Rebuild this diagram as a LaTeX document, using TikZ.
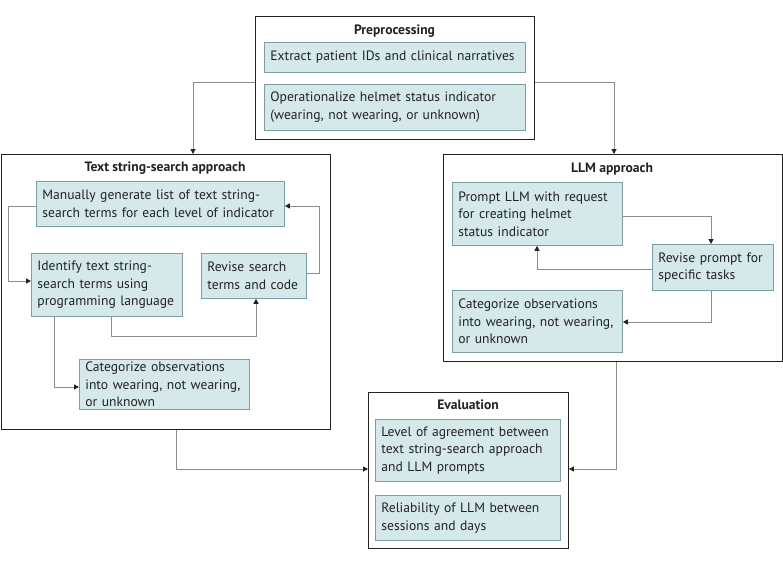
\documentclass[tikz,border=0pt]{standalone}
\definecolor{FlowFill}{HTML}{D5E9EB}
\definecolor{FlowEdge}{HTML}{7E9DA1}
\definecolor{FlowInk}{HTML}{222222}
\definecolor{FlowLine}{HTML}{8C8C8C}
\usepackage{fontspec}
\setmainfont{PT Sans}
\usepackage{tikz}
\usetikzlibrary{arrows.meta,positioning}

\begin{document}
\begin{tikzpicture}[x=1pt,y=-1pt,
    font=\fontsize{13.6}{17.5}\selectfont,
    panel/.style={draw=FlowInk,line width=0.9pt,anchor=north west,inner sep=0pt},
    panelhead/.style={font=\fontsize{13.6}{17.5}\selectfont\bfseries,text=FlowInk},
    stepbox/.style={draw=FlowEdge,fill=FlowFill,line width=0.8pt,anchor=north west,
      align=left,inner xsep=6pt,inner ysep=2pt,text=FlowInk},
    conn/.style={draw=FlowLine,line width=1pt,
      -{Triangle[length=5pt,width=5pt,color=FlowInk]}}]
    \useasboundingbox (0,0) rectangle (783,568);

    % outer panels
    \node[panel,minimum width=279pt,minimum height=123pt] (prep) at (255,16) {};
    \node[panel,minimum width=329pt,minimum height=275pt] (tsa) at (1,154) {};
    \node[panel,minimum width=339pt,minimum height=207pt] (llm) at (443,154) {};
    \node[panel,minimum width=200pt,minimum height=156pt] (eval) at (368,392) {};

    \node[panelhead] (prephead) at (394.5,31) {Preprocessing};
    \node[panelhead] (tsahead) at (165,168) {Text string-search approach};
    \node[panelhead] (llmhead) at (612,169) {LLM approach};
    \node[panelhead] (evalhead) at (468,405) {Evaluation};

    % preprocessing
    \node[stepbox,text width=249pt,minimum height=30pt] (extract) at (264,42)
      {Extract patient IDs and clinical narratives};
    \node[stepbox,text width=249pt,minimum height=46pt] (oper) at (264,84)
      {Operationalize helmet status indicator\\(wearing, not wearing, or unknown)};

    % text string-search
    \node[stepbox,text width=236pt,minimum height=45pt] (gen) at (36,181)
      {Manually generate list of text string-\\search terms for each level of indicator};
    \node[stepbox,text width=139pt,minimum height=63pt] (ident) at (31,253)
      {Identify text string-\\search terms using\\programming language};
    \node[stepbox,text width=93pt,minimum height=45pt] (rev) at (201,253)
      {Revise search\\terms and code};
    \node[stepbox,text width=158pt,minimum height=50pt] (cattsa) at (79,359)
      {Categorize observations\\into wearing, not wearing,\\or unknown};

    % LLM
    \node[stepbox,text width=158pt,minimum height=63pt] (prompt) at (452,182)
      {Prompt LLM with request\\for creating helmet\\status indicator};
    \node[stepbox,text width=109pt,minimum height=46pt] (revp) at (652,244)
      {Revise prompt for\\specific tasks};
    \node[stepbox,text width=158pt,minimum height=62pt] (catllm) at (452,290)
      {Categorize observations\\into wearing, not wearing,\\or unknown};

    % evaluation
    \node[stepbox,text width=173pt,minimum height=62pt] (agree) at (375,419)
      {Level of agreement between\\text string-search approach\\and LLM prompts};
    \node[stepbox,text width=173pt,minimum height=45pt] (relia) at (375,495)
      {Reliability of LLM between\\sessions and days};

    % connectors
    \draw[conn] (prep.west |- 0,82) -| (193,0 |- tsa.north);
    \draw[conn] (prep.east |- 0,82) -| (614,0 |- llm.north);

    \draw[conn] (gen.west |- 0,206) -- (8,206) |- (ident.west |- 0,281);
    \draw[conn] (ident.south -| 111,0) -- (111,336) -| (rev.south -| 256,0);
    \draw[conn] (rev.east |- 0,273) -- (319,273) |- (gen.east |- 0,206);
    \draw[conn] (ident.south -| 54,0) |- (cattsa.west |- 0,387);

    \draw[conn] (prompt.east |- 0,216) -| (revp.north -| 711,0);
    \draw[conn] (revp.west |- 0,269) -| (prompt.south -| 537,0);
    \draw[conn] (revp.south -| 711,0) |- (catllm.east |- 0,322);

    \draw[conn] (tsa.south -| 176,0) |- (eval.west |- 0,469);
    \draw[conn] (llm.south -| 616,0) |- (eval.east |- 0,469);
  \end{tikzpicture}
\end{document}
